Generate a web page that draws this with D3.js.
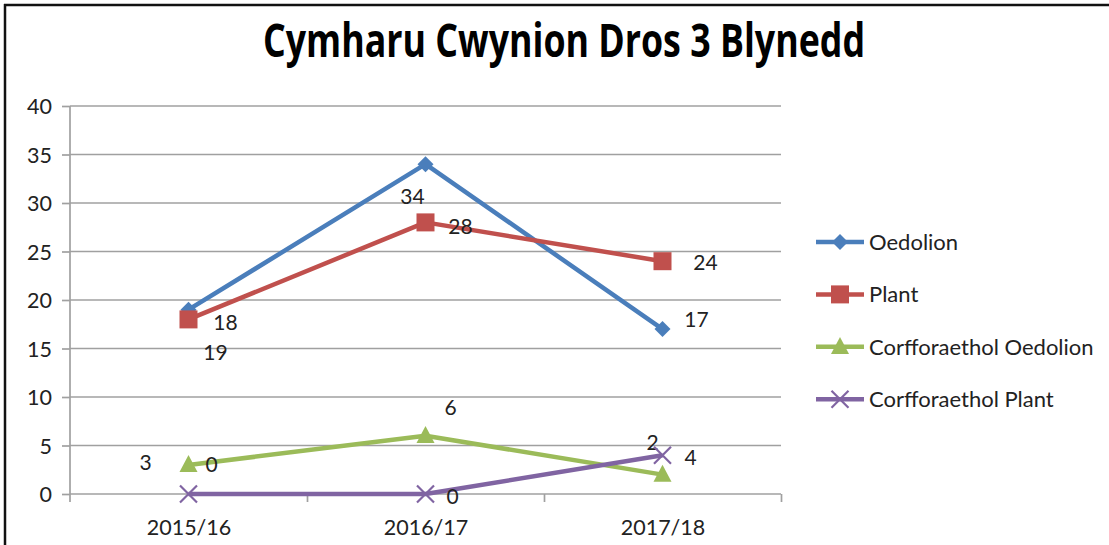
<!DOCTYPE html>
<html>
<head>
<meta charset="utf-8">
<script src="https://cdn.jsdelivr.net/npm/d3@7/dist/d3.min.js"></script>
<style>
  html, body { margin: 0; padding: 0; background: #fff; }
  svg { display: block; }
  .grid line { stroke: #a0a0a0; stroke-width: 1.7; }
  .axis text { font-family: Lato, "Open Sans", sans-serif; font-size: 21.5px; fill: #222; }
  .axis path, .axis line { stroke: #a0a0a0; stroke-width: 1.7; }
  .dlabel { font-family: Lato, "Open Sans", sans-serif; font-size: 21px; fill: #222; }
  .legend text { font-family: Lato, "Open Sans", sans-serif; font-size: 22px; fill: #222; }
</style>
</head>
<body>
<svg id="chart" width="1109" height="545"></svg>
<script>
// ============ Data ============
const title = "Cymharu Cwynion Dros 3 Blynedd";
const years = ["2015/16", "2016/17", "2017/18"];
const seriesNames = ["Oedolion", "Plant", "Corfforaethol Oedolion", "Corfforaethol Plant"];
const oedolion = [19, 34, 17];
const plant = [18, 28, 24];
const corffOedolion = [3, 6, 2];
const corffPlant = [0, 0, 4];
const yTicks = [0, 5, 10, 15, 20, 25, 30, 35, 40];

// ============ Style ============
const colors = ["#4a7ebb", "#c0504d", "#9bbb59", "#8064a2"];
const markers = ["diamond", "square", "triangle", "cross"];
// label offsets (px) from each point, as placed in the original
const labelOffsets = [
  [[27, 43], [-13, 32], [34, -9]],
  [[37, 3], [35, 4], [43, 1]],
  [[-43, -2], [25, -28], [-10, -32]],
  [[23, -29], [27, 3], [28, 2]]
];

const allSeries = [oedolion, plant, corffOedolion, corffPlant].map((vals, i) => ({
  name: seriesNames[i], values: vals, color: colors[i], marker: markers[i], offsets: labelOffsets[i]
}));

const svg = d3.select("#chart");
const plot = { left: 70, right: 781, top: 106, bottom: 494 };

// outer frame (top + left edges visible)
svg.append("line").attr("x1", 4).attr("x2", 1109).attr("y1", 5).attr("y2", 5)
  .attr("stroke", "#111").attr("stroke-width", 2.5);
svg.append("line").attr("x1", 5).attr("x2", 5).attr("y1", 4).attr("y2", 545)
  .attr("stroke", "#111").attr("stroke-width", 2.5);

svg.append("text")
  .attr("x", 564).attr("y", 57)
  .attr("text-anchor", "middle")
  .attr("font-family", "'Open Sans', sans-serif")
  .attr("font-weight", "bold")
  .attr("font-size", 47)
  .attr("textLength", 602)
  .attr("lengthAdjust", "spacingAndGlyphs")
  .attr("fill", "#000")
  .text(title);

// ============ Scales ============
const x = d3.scalePoint().domain(years).range([plot.left, plot.right]).padding(0.5);
const y = d3.scaleLinear().domain([0, 40]).range([plot.bottom, plot.top]);
const step = x.step();

// gridlines
svg.append("g").attr("class", "grid")
  .selectAll("line").data(yTicks.filter(t => t > 0)).enter().append("line")
  .attr("x1", plot.left).attr("x2", plot.right)
  .attr("y1", d => y(d)).attr("y2", d => y(d));

// y axis
const yAxis = svg.append("g").attr("class", "axis")
  .attr("transform", `translate(${plot.left},0)`)
  .call(d3.axisLeft(y).tickValues(yTicks).tickSize(8).tickPadding(10).tickSizeOuter(0));
yAxis.select(".domain").attr("d", `M0,${plot.top}V${plot.bottom + 8}`);
yAxis.selectAll("text").attr("dy", "0.35em");

// x axis
const xAxis = svg.append("g").attr("class", "axis")
  .attr("transform", `translate(0,${plot.bottom})`)
  .call(d3.axisBottom(x).tickSize(0).tickPadding(33));
xAxis.select(".domain").attr("d", `M${plot.left},0H${plot.right}`);
xAxis.selectAll(".tick").append("line")
  .attr("x1", step / 2).attr("x2", step / 2).attr("y1", 0).attr("y2", 8);
xAxis.selectAll("text").attr("dy", "0.35em");

// ============ Markers ============
function drawMarker(g, type, color, s) {
  if (type === "diamond") {
    g.append("path").attr("d", `M0,${-s}L${s},0L0,${s}L${-s},0Z`).attr("fill", color);
  } else if (type === "square") {
    g.append("rect").attr("x", -s).attr("y", -s).attr("width", 2 * s).attr("height", 2 * s).attr("fill", color);
  } else if (type === "triangle") {
    g.append("path").attr("d", `M0,${-s * 1.1}L${s},${s * 0.8}L${-s},${s * 0.8}Z`).attr("fill", color);
  } else {
    g.append("path").attr("d", `M${-s},${-s}L${s},${s}M${-s},${s}L${s},${-s}`)
      .attr("stroke", color).attr("stroke-width", 2.2).attr("fill", "none");
  }
}
const markerSize = { diamond: 8, square: 9, triangle: 9, cross: 8.5 };

// ============ Lines ============
const line = d3.line().x((d, i) => x(years[i])).y(d => y(d));
const seriesG = svg.append("g").selectAll("g.series").data(allSeries).enter().append("g");

seriesG.append("path")
  .attr("d", d => line(d.values))
  .attr("fill", "none")
  .attr("stroke", d => d.color)
  .attr("stroke-width", 4.5)
  .attr("stroke-linejoin", "round");

seriesG.each(function (s) {
  const g = d3.select(this);
  s.values.forEach((v, i) => {
    const m = g.append("g").attr("transform", `translate(${x(years[i])},${y(v)})`);
    drawMarker(m, s.marker, s.color, markerSize[s.marker]);
  });
});

// data labels
seriesG.each(function (s) {
  d3.select(this).selectAll("text.dlabel").data(s.values).enter().append("text")
    .attr("class", "dlabel")
    .attr("x", (v, i) => x(years[i]) + s.offsets[i][0])
    .attr("y", (v, i) => y(v) + s.offsets[i][1])
    .attr("text-anchor", "middle")
    .attr("dy", "0.35em")
    .text(v => v);
});

// ============ Legend ============
const legend = svg.append("g").attr("class", "legend");
const legendRows = legend.selectAll("g").data(allSeries).enter().append("g")
  .attr("transform", (d, i) => `translate(816,${242 + i * 52.4})`);
legendRows.append("line")
  .attr("x1", 0).attr("x2", 48)
  .attr("stroke", d => d.color).attr("stroke-width", 4.5);
legendRows.each(function (s) {
  const m = d3.select(this).append("g").attr("transform", "translate(24,0)");
  drawMarker(m, s.marker, s.color, markerSize[s.marker]);
});
legendRows.append("text")
  .attr("x", 53).attr("dy", "0.35em")
  .text(d => d.name);
</script>
</body>
</html>
